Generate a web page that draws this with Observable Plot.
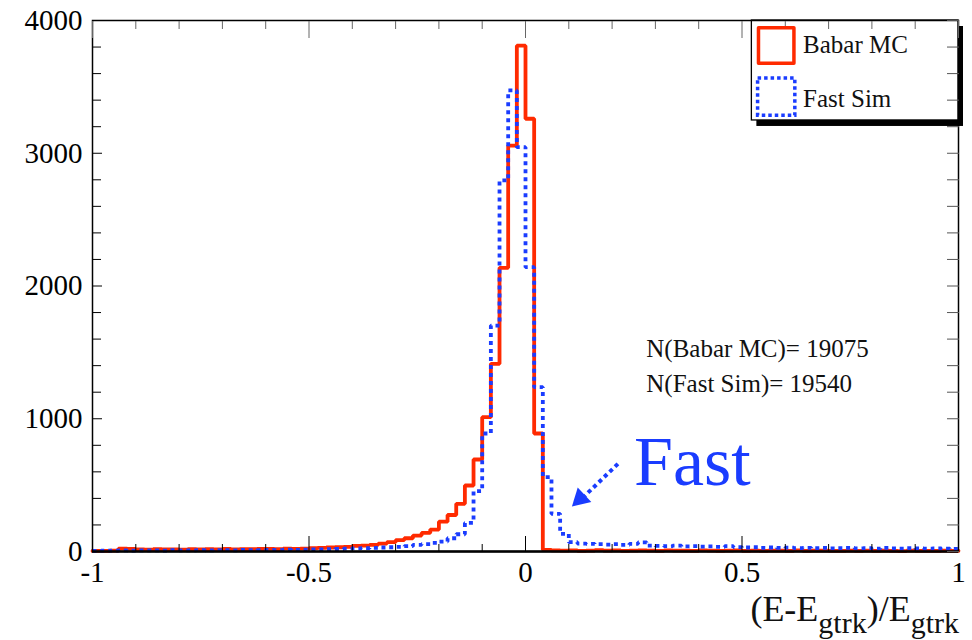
<!DOCTYPE html>
<html>
<head>
<meta charset="utf-8">
<script src="https://cdn.jsdelivr.net/npm/d3@7"></script>
<script src="https://cdn.jsdelivr.net/npm/@observablehq/plot@0.6"></script>
<style>
  html, body { margin: 0; padding: 0; background: #fff; }
  #chart { width: 972px; height: 640px; }
</style>
</head>
<body>
<div id="chart"></div>
<script>
// ---- data ----
// 100 bins of width 0.02 from -1 to 1 (lower edges)
const binLow = d3.range(100).map(i => +(-1 + i * 0.02).toFixed(2));
const binHigh = 1;

const babarMC = [
  4, 5, 6, 22, 20, 16, 14, 17, 15, 16, 13, 18, 15, 17, 16, 19, 15, 18, 17, 19, 20, 18, 21, 20, 22,
  25, 28, 30, 32, 35, 42, 45, 50, 60, 70,
  85, 100, 120, 140, 165, 225, 275, 359, 497, 693,
  1012, 1414, 2137, 3058, 3810, 3260, 889, 12,
  8, 6, 9, 5, 7, 10, 6, 8, 5, 7, 9, 6, 4, 8, 6, 7, 5, 9, 6, 5,
  7, 8, 4, 6, 5, 7, 6, 4, 8, 5, 6, 7, 5, 4, 6, 5, 7, 4, 6, 5, 3, 6, 4, 5, 4, 6, 5
];

const fastSim = [
  5, 7, 6, 8, 7, 9, 8, 9, 7, 10, 9, 8, 10, 9, 11, 10, 9, 12, 10, 11, 12, 11, 13, 12, 14,
  15, 16, 18, 19, 21, 23, 25, 27, 30,
  32, 35, 40, 50, 55, 65, 75, 100, 130, 215,
  455, 889, 1702, 2795, 3473, 3046, 2142, 1238, 560, 284,
  133, 70, 60, 58, 55, 52, 55, 50, 58, 68,
  45, 42, 40, 45, 38, 40, 36, 38, 35, 40,
  33, 30, 32, 28, 30, 27, 29, 26, 28, 25,
  27, 24, 26, 28, 24, 25, 22, 27, 24, 22,
  25, 23, 21, 24, 22, 20
];

const seriesNames = ["Babar MC", "Fast Sim"];
const seriesColors = ["#ff2a00", "#1a3cff"];
const countLabels = ["N(Babar MC)= 19075", "N(Fast Sim)= 19540"];

const xMajor = [-1, -0.5, 0, 0.5, 1];
const xMinor = [-0.9, -0.8, -0.7, -0.6, -0.4, -0.3, -0.2, -0.1, 0.1, 0.2, 0.3, 0.4, 0.6, 0.7, 0.8, 0.9];
const yMajor = [0, 1000, 2000, 3000, 4000];
const yMinor = [200, 400, 600, 800, 1200, 1400, 1600, 1800, 2200, 2400, 2600, 2800, 3200, 3400, 3600, 3800];

// annotation anchors (data coordinates)
const countTextPos = [{x: 0.279, y: 1527}, {x: 0.279, y: 1263}];
const fastLabel = {text: "Fast", x: 0.2507, y: 666};
const arrowShaft = {x1: 0.2134, y1: 660, x2: 0.137, y2: 420};
const arrowHead = {x: 0.1266, y: 398};
const legendBox = {x1: 0.5228, x2: 1.0, y1: 3247, y2: 4000};
const legendSym = [{x: 0.579, y: 3812}, {x: 0.579, y: 3427}];
const legendTxt = [{x: 0.641, y: 3812}, {x: 0.641, y: 3412}];

// ---- build step tables ----
function stepTable(vals) {
  const rows = binLow.map((x, i) => ({x, v: vals[i]}));
  rows.push({x: binHigh, v: vals[vals.length - 1]});
  return rows;
}
const red = stepTable(babarMC);
const blue = stepTable(fastSim);

const FONT = "Liberation Serif";

const chart = Plot.plot({
  width: 972,
  height: 640,
  marginLeft: 92,
  marginRight: 14,
  marginTop: 20,
  marginBottom: 89,
  style: {background: "#fff", overflow: "visible", fontFamily: FONT},
  x: {domain: [-1, 1], label: null},
  y: {domain: [0, 4000], label: null},
  marks: [
    // legend box with shadow
    Plot.rect([legendBox], {x1: "x1", x2: "x2", y1: "y1", y2: "y2", fill: "#000", dx: 5, dy: 6}),
    Plot.rect([legendBox], {x1: "x1", x2: "x2", y1: "y1", y2: "y2", fill: "#fff", stroke: "#000", strokeWidth: 1.3}),
    // histograms
    Plot.line(red, {x: "x", y: "v", curve: "step-after", stroke: seriesColors[0], strokeWidth: 3.8, strokeLinejoin: "miter"}),
    Plot.line(blue, {x: "x", y: "v", curve: "step-after", stroke: seriesColors[1], strokeWidth: 3.8, strokeDasharray: "4,4", strokeLinecap: "butt", strokeLinejoin: "miter"}),
    // frame and axes
    Plot.frame({stroke: "#000", strokeWidth: 1.5}),
    Plot.ruleY([0], {stroke: "#000", strokeWidth: 2.5}),
    Plot.axisX({anchor: "bottom", ticks: xMajor, tickSize: -15, tickPadding: 25, tickFormat: d => String(d), fontSize: 29, fontFamily: FONT, label: null}),
    Plot.axisX({anchor: "bottom", ticks: xMinor, tickSize: -7, text: null, label: null}),
    Plot.axisX({anchor: "top", ticks: xMajor, tickSize: -17, text: null, label: null, stroke: "#666"}),
    Plot.axisX({anchor: "top", ticks: xMinor, tickSize: -8, text: null, label: null, stroke: "#666"}),
    Plot.axisY({anchor: "left", ticks: yMajor, tickSize: -10, tickPadding: 20, tickFormat: d => String(d), fontSize: 29, fontFamily: FONT, label: null}),
    Plot.axisY({anchor: "left", ticks: yMinor, tickSize: -9, text: null, label: null}),
    Plot.axisY({anchor: "right", ticks: yMajor.concat(yMinor), tickSize: -12, text: null, label: null, stroke: "#555"}),
    // legend content
    Plot.dot([legendSym[0]], {x: "x", y: "y", symbol: "square", r: 20, fill: "none", stroke: seriesColors[0], strokeWidth: 3.5, strokeLinejoin: "round"}),
    Plot.dot([legendSym[1]], {x: "x", y: "y", symbol: "square", r: 21, fill: "none", stroke: seriesColors[1], strokeWidth: 3.5, strokeDasharray: "3.5,3"}),
    Plot.text(legendTxt, {x: "x", y: "y", text: (d, i) => seriesNames[i], textAnchor: "start", lineAnchor: "middle", fontSize: 25, fontFamily: FONT, fill: "#111"}),
    // counts
    Plot.text(countTextPos, {x: "x", y: "y", text: (d, i) => countLabels[i], textAnchor: "start", lineAnchor: "middle", fontSize: 25, fontFamily: FONT, fill: "#111"}),
    // "Fast" annotation with arrow
    Plot.text([fastLabel], {x: "x", y: "y", text: "text", textAnchor: "start", lineAnchor: "middle", fontSize: 70, fontFamily: FONT, fill: seriesColors[1]}),
    Plot.link([arrowShaft], {x1: "x1", y1: "y1", x2: "x2", y2: "y2", stroke: seriesColors[1], strokeWidth: 4, strokeDasharray: "4,3.5"}),
    Plot.dot([arrowHead], {x: "x", y: "y", symbol: "triangle2", r: 9.5, fill: seriesColors[1], rotate: 227})
  ]
});

document.getElementById("chart").appendChild(chart);

// x-axis title with subscripts
const svg = d3.select(chart);
const t = svg.append("text")
  .attr("x", 959).attr("y", 621)
  .attr("text-anchor", "end")
  .attr("font-size", 36)
  .attr("font-family", FONT)
  .attr("fill", "#111");
t.append("tspan").text("(E-E");
t.append("tspan").attr("dy", 12).attr("font-size", 30).text("gtrk");
t.append("tspan").attr("dy", -12).text(")/E");
t.append("tspan").attr("dy", 12).attr("font-size", 30).text("gtrk");
</script>
</body>
</html>
